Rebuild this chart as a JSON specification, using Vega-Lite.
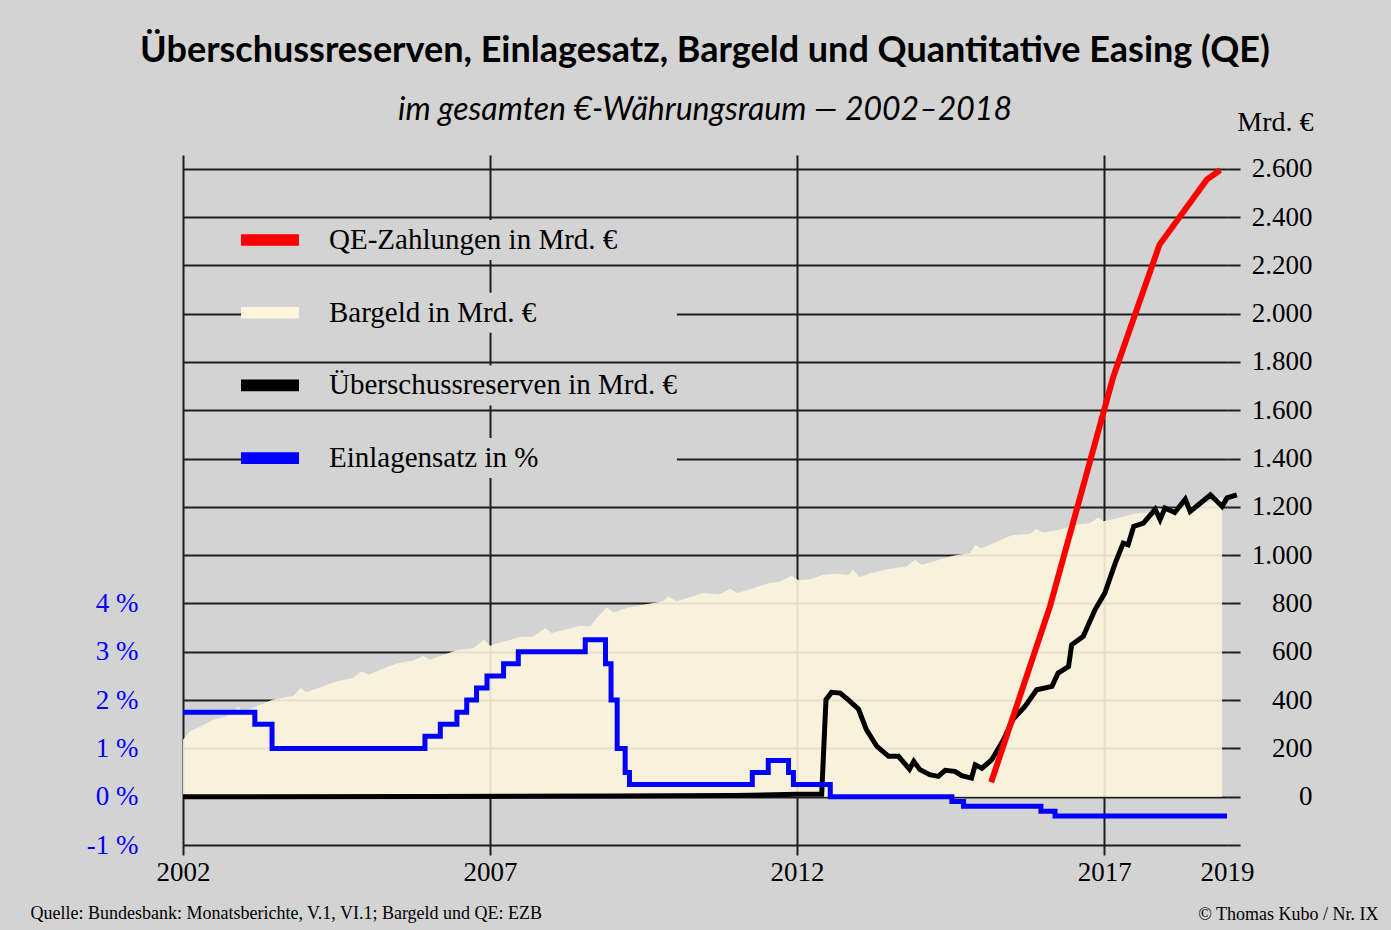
{
  "$schema": "https://vega.github.io/schema/vega-lite/v6.json",
  "width": 1044,
  "height": 690,
  "autosize": {"type": "none"},
  "padding": {"left": 183, "top": 155, "right": 164, "bottom": 85},
  "background": "#d3d3d3",
  "title": {
    "text": "Überschussreserven, Einlagesatz, Bargeld und Quantitative Easing (QE)",
    "subtitle": "im gesamten €-Währungsraum — 2002–2018",
    "anchor": "middle",
    "frame": "group",
    "font": "Lato",
    "fontSize": 36,
    "fontWeight": "bold",
    "color": "black",
    "subtitleFont": "Lato",
    "subtitleFontStyle": "italic",
    "subtitleFontSize": 32,
    "subtitleColor": "black",
    "subtitlePadding": 25,
    "offset": -19
  },
  "config": {
    "view": {"stroke": null},
    "legend": {
      "orient": "none",
      "legendX": 58,
      "legendY": 65,
      "padding": 0,
      "clipHeight": 40,
      "labelFont": "Liberation Serif",
      "labelFontSize": 29,
      "labelColor": "black",
      "labelOffset": 30,
      "rowPadding": 32.7,
      "symbolType": "M-1,-0.2H1V0.2H-1Z",
      "symbolSize": 3364,
      "symbolStrokeWidth": 0,
      "symbolOpacity": 1,
      "labelLimit": 0
    }
  },
  "datasets": {
    "bargeld": [
      {"t": 2002.00, "v": 236}, {"t": 2002.11, "v": 270}, {"t": 2002.28, "v": 291}, {"t": 2002.49, "v": 319},
      {"t": 2002.71, "v": 332}, {"t": 2002.90, "v": 371}, {"t": 2002.98, "v": 353}, {"t": 2003.20, "v": 374},
      {"t": 2003.47, "v": 402}, {"t": 2003.80, "v": 418}, {"t": 2003.91, "v": 450}, {"t": 2004.01, "v": 432},
      {"t": 2004.28, "v": 457}, {"t": 2004.50, "v": 477}, {"t": 2004.77, "v": 491}, {"t": 2004.91, "v": 519},
      {"t": 2005.02, "v": 505}, {"t": 2005.21, "v": 526}, {"t": 2005.48, "v": 551}, {"t": 2005.75, "v": 564},
      {"t": 2005.91, "v": 584}, {"t": 2006.02, "v": 567}, {"t": 2006.24, "v": 588}, {"t": 2006.46, "v": 606},
      {"t": 2006.73, "v": 615}, {"t": 2006.90, "v": 650}, {"t": 2007.00, "v": 625}, {"t": 2007.16, "v": 638},
      {"t": 2007.49, "v": 661}, {"t": 2007.70, "v": 663}, {"t": 2007.90, "v": 698}, {"t": 2008.00, "v": 678},
      {"t": 2008.25, "v": 693}, {"t": 2008.46, "v": 708}, {"t": 2008.63, "v": 705}, {"t": 2008.76, "v": 746},
      {"t": 2008.90, "v": 784}, {"t": 2009.01, "v": 763}, {"t": 2009.23, "v": 781}, {"t": 2009.50, "v": 795},
      {"t": 2009.82, "v": 809}, {"t": 2009.90, "v": 829}, {"t": 2010.04, "v": 809}, {"t": 2010.20, "v": 822},
      {"t": 2010.47, "v": 843}, {"t": 2010.74, "v": 838}, {"t": 2010.91, "v": 861}, {"t": 2011.02, "v": 843},
      {"t": 2011.29, "v": 863}, {"t": 2011.50, "v": 882}, {"t": 2011.72, "v": 891}, {"t": 2011.91, "v": 915},
      {"t": 2012.02, "v": 896}, {"t": 2012.21, "v": 900}, {"t": 2012.43, "v": 919}, {"t": 2012.59, "v": 923},
      {"t": 2012.83, "v": 919}, {"t": 2012.91, "v": 940}, {"t": 2013.02, "v": 909}, {"t": 2013.19, "v": 925},
      {"t": 2013.51, "v": 944}, {"t": 2013.78, "v": 953}, {"t": 2013.92, "v": 981}, {"t": 2014.03, "v": 960},
      {"t": 2014.27, "v": 978}, {"t": 2014.54, "v": 998}, {"t": 2014.82, "v": 1009}, {"t": 2014.90, "v": 1043},
      {"t": 2015.00, "v": 1029}, {"t": 2015.30, "v": 1061}, {"t": 2015.49, "v": 1083}, {"t": 2015.79, "v": 1088},
      {"t": 2015.89, "v": 1108}, {"t": 2016.01, "v": 1094}, {"t": 2016.28, "v": 1105}, {"t": 2016.55, "v": 1126},
      {"t": 2016.77, "v": 1133}, {"t": 2016.90, "v": 1156}, {"t": 2016.99, "v": 1140}, {"t": 2017.26, "v": 1156},
      {"t": 2017.48, "v": 1172}, {"t": 2017.69, "v": 1177}, {"t": 2017.86, "v": 1194}, {"t": 2018.02, "v": 1188},
      {"t": 2018.34, "v": 1205}, {"t": 2018.67, "v": 1218}, {"t": 2018.92, "v": 1240}
    ],
    "reserven": [
      {"t": 2002.00, "v": 0}, {"t": 2006.00, "v": 1}, {"t": 2009.00, "v": 3}, {"t": 2011.00, "v": 5},
      {"t": 2012.00, "v": 10}, {"t": 2012.40, "v": 10}, {"t": 2012.47, "v": 402}, {"t": 2012.56, "v": 432},
      {"t": 2012.70, "v": 429}, {"t": 2012.83, "v": 402}, {"t": 2013.00, "v": 362}, {"t": 2013.13, "v": 277},
      {"t": 2013.30, "v": 208}, {"t": 2013.49, "v": 167}, {"t": 2013.65, "v": 167}, {"t": 2013.83, "v": 114},
      {"t": 2013.90, "v": 146}, {"t": 2014.00, "v": 112}, {"t": 2014.16, "v": 91}, {"t": 2014.30, "v": 84},
      {"t": 2014.41, "v": 109}, {"t": 2014.57, "v": 105}, {"t": 2014.68, "v": 87}, {"t": 2014.84, "v": 77},
      {"t": 2014.90, "v": 132}, {"t": 2015.01, "v": 118}, {"t": 2015.17, "v": 153}, {"t": 2015.36, "v": 236},
      {"t": 2015.52, "v": 322}, {"t": 2015.71, "v": 374}, {"t": 2015.90, "v": 443}, {"t": 2016.15, "v": 457},
      {"t": 2016.25, "v": 512}, {"t": 2016.42, "v": 539}, {"t": 2016.47, "v": 629}, {"t": 2016.66, "v": 664},
      {"t": 2016.85, "v": 774}, {"t": 2017.01, "v": 843}, {"t": 2017.18, "v": 967}, {"t": 2017.31, "v": 1050},
      {"t": 2017.39, "v": 1043}, {"t": 2017.48, "v": 1119}, {"t": 2017.64, "v": 1133}, {"t": 2017.83, "v": 1190},
      {"t": 2017.91, "v": 1147}, {"t": 2017.99, "v": 1195}, {"t": 2018.15, "v": 1177}, {"t": 2018.32, "v": 1232},
      {"t": 2018.40, "v": 1181}, {"t": 2018.57, "v": 1216}, {"t": 2018.73, "v": 1250}, {"t": 2018.92, "v": 1202},
      {"t": 2019.00, "v": 1237}, {"t": 2019.16, "v": 1250}
    ],
    "qe": [
      {"t": 2015.16, "v": 60}, {"t": 2016.12, "v": 790}, {"t": 2017.15, "v": 1740},
      {"t": 2017.90, "v": 2285}, {"t": 2018.67, "v": 2555}, {"t": 2018.89, "v": 2595}
    ],
    "einlage": [
      {"t": 2002.00, "p": 1.75}, {"t": 2003.17, "p": 1.5}, {"t": 2003.45, "p": 1.0}, {"t": 2005.94, "p": 1.25},
      {"t": 2006.19, "p": 1.5}, {"t": 2006.46, "p": 1.75}, {"t": 2006.62, "p": 2.0}, {"t": 2006.78, "p": 2.25},
      {"t": 2006.95, "p": 2.5}, {"t": 2007.22, "p": 2.75}, {"t": 2007.46, "p": 3.0}, {"t": 2008.55, "p": 3.25},
      {"t": 2008.88, "p": 2.75}, {"t": 2008.97, "p": 2.0}, {"t": 2009.07, "p": 1.0}, {"t": 2009.20, "p": 0.5},
      {"t": 2009.27, "p": 0.25}, {"t": 2011.27, "p": 0.5}, {"t": 2011.53, "p": 0.75}, {"t": 2011.86, "p": 0.5},
      {"t": 2011.94, "p": 0.25}, {"t": 2012.54, "p": 0.0}, {"t": 2014.52, "p": -0.1}, {"t": 2014.71, "p": -0.2},
      {"t": 2015.97, "p": -0.3}, {"t": 2016.20, "p": -0.4}, {"t": 2019.00, "p": -0.4}
    ]
  },
  "encoding": {
    "x": {
      "field": "t",
      "type": "quantitative",
      "scale": {"domain": [2002, 2019], "nice": false, "zero": false},
      "axis": {
        "values": [2002, 2007, 2012, 2017, 2019],
        "format": "d",
        "grid": true,
        "gridColor": {"condition": {"test": "datum.value == 2019", "value": "transparent"}, "value": "#1e1e1e"},
        "gridWidth": 2,
        "tickColor": {"condition": {"test": "datum.value == 2019", "value": "transparent"}, "value": "#1e1e1e"},
        "tickSize": 10,
        "tickWidth": 2,
        "domain": false,
        "labelFlush": false,
        "labelOverlap": false,
        "labelFont": "Liberation Serif",
        "labelFontSize": 27,
        "labelColor": "black",
        "labelPadding": 4,
        "title": "© Thomas Kubo / Nr. IX",
        "titleFont": "Liberation Serif",
        "titleFontSize": 18,
        "titleFontWeight": "normal",
        "titleColor": "black",
        "titleAlign": "right",
        "titleBaseline": "alphabetic",
        "titleX": 1195,
        "titleY": 74
      }
    }
  },
  "layer": [
    {
      "layer": [
        {
          "data": {"name": "bargeld"},
          "mark": {"type": "area", "opacity": 0.9, "interpolate": "linear"},
          "encoding": {
            "y": {
              "field": "v",
              "type": "quantitative",
              "scale": {"domain": [-200, 2657], "nice": false, "zero": false},
              "axis": {
                "orient": "right",
                "values": [-200, 0, 200, 400, 600, 800, 1000, 1200, 1400, 1600, 1800, 2000, 2200, 2400, 2600],
                "labelExpr": "datum.value < 0 ? '' : replace(format(datum.value, ',d'), ',', '.')",
                "grid": true,
                "gridColor": "#1e1e1e",
                "gridWidth": 2,
                "tickSize": 13,
                "tickWidth": 2,
                "tickColor": "#1e1e1e",
                "domain": false,
                "labelAlign": "right",
                "labelPadding": 72,
                "labelFont": "Liberation Serif",
                "labelFontSize": 27,
                "labelColor": "black",
                "title": "Mrd. €",
                "titleAngle": 0,
                "titleAlign": "right",
                "titleBaseline": "alphabetic",
                "titleX": 86,
                "titleY": -25,
                "titleFont": "Liberation Serif",
                "titleFontSize": 28,
                "titleFontWeight": "normal",
                "titleColor": "black"
              }
            },
            "color": {
              "datum": "Bargeld in Mrd. €",
              "type": "nominal",
              "scale": {
                "domain": ["QE-Zahlungen in Mrd. €", "Bargeld in Mrd. €", "Überschussreserven in Mrd. €", "Einlagensatz in %"],
                "range": ["#ff0000", "#fcf4dd", "#000000", "#0000ff"]
              },
              "legend": {
                "title": null,
                "encode": {
                  "symbols": {"update": {"fill": {"scale": "color", "field": "value"}, "stroke": {"value": "transparent"}, "opacity": {"value": 1}}},
                  "entries": {"update": {"fill": {"value": "#d3d3d3"}, "width": {"value": 318}}}
                }
              }
            }
          }
        },
        {
          "data": {"name": "reserven"},
          "mark": {"type": "line", "strokeWidth": 5},
          "encoding": {
            "y": {"field": "v", "type": "quantitative"},
            "color": {
              "datum": "Überschussreserven in Mrd. €",
              "type": "nominal",
              "scale": {
                "domain": ["QE-Zahlungen in Mrd. €", "Bargeld in Mrd. €", "Überschussreserven in Mrd. €", "Einlagensatz in %"],
                "range": ["#ff0000", "#fcf4dd", "#000000", "#0000ff"]
              },
              "legend": {
                "title": null,
                "encode": {
                  "symbols": {"update": {"fill": {"scale": "color", "field": "value"}, "stroke": {"value": "transparent"}, "opacity": {"value": 1}}},
                  "entries": {"update": {"fill": {"value": "#d3d3d3"}, "width": {"value": 318}}}
                }
              }
            }
          }
        },
        {
          "data": {"name": "qe"},
          "mark": {"type": "line", "strokeWidth": 6},
          "encoding": {
            "y": {"field": "v", "type": "quantitative"},
            "color": {
              "datum": "QE-Zahlungen in Mrd. €",
              "type": "nominal",
              "scale": {
                "domain": ["QE-Zahlungen in Mrd. €", "Bargeld in Mrd. €", "Überschussreserven in Mrd. €", "Einlagensatz in %"],
                "range": ["#ff0000", "#fcf4dd", "#000000", "#0000ff"]
              },
              "legend": {
                "title": null,
                "encode": {
                  "symbols": {"update": {"fill": {"scale": "color", "field": "value"}, "stroke": {"value": "transparent"}, "opacity": {"value": 1}}},
                  "entries": {"update": {"fill": {"value": "#d3d3d3"}, "width": {"value": 318}}}
                }
              }
            }
          }
        }
      ]
    },
    {
      "data": {"name": "einlage"},
      "mark": {"type": "line", "strokeWidth": 5, "interpolate": "step-after"},
      "encoding": {
        "y": {
          "field": "p",
          "type": "quantitative",
          "scale": {"domain": [-1, 13.285], "nice": false, "zero": false},
          "axis": {
            "orient": "left",
            "values": [-1, 0, 1, 2, 3, 4],
            "labelExpr": "datum.value + ' %'",
            "grid": false,
            "ticks": false,
            "domain": false,
            "labelFont": "Liberation Serif",
            "labelFontSize": 27,
            "labelColor": "#0000ff",
            "labelPadding": 45,
            "title": "Quelle: Bundesbank: Monatsberichte, V.1, VI.1; Bargeld und QE: EZB",
            "titleAngle": 0,
            "titleAlign": "left",
            "titleBaseline": "alphabetic",
            "titleX": -153,
            "titleY": 763,
            "titleFont": "Liberation Serif",
            "titleFontSize": 18,
            "titleFontWeight": "normal",
            "titleColor": "black"
          }
        },
        "color": {
          "datum": "Einlagensatz in %",
          "type": "nominal",
          "scale": {
            "domain": ["QE-Zahlungen in Mrd. €", "Bargeld in Mrd. €", "Überschussreserven in Mrd. €", "Einlagensatz in %"],
            "range": ["#ff0000", "#fcf4dd", "#000000", "#0000ff"]
          },
          "legend": {
            "title": null,
            "encode": {
              "symbols": {"update": {"fill": {"scale": "color", "field": "value"}, "stroke": {"value": "transparent"}, "opacity": {"value": 1}}},
              "entries": {"update": {"fill": {"value": "#d3d3d3"}, "width": {"value": 318}}}
            }
          }
        }
      }
    }
  ],
  "resolve": {"scale": {"y": "independent"}, "axis": {"y": "independent"}}
}
